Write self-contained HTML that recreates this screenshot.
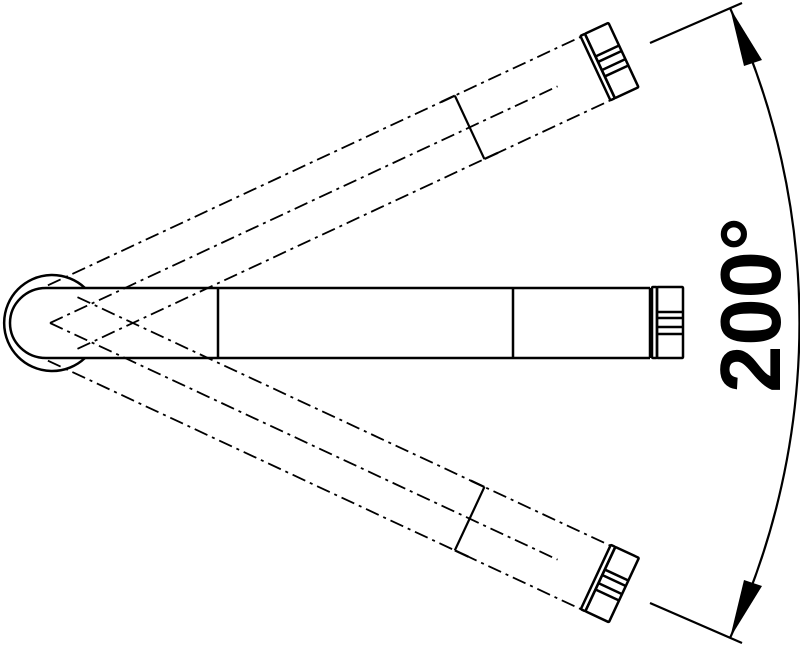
<!DOCTYPE html>
<html><head><style>html,body{margin:0;padding:0;background:#fff}svg{display:block}</style></head>
<body>
<svg width="800" height="647" viewBox="0 0 800 647" xmlns="http://www.w3.org/2000/svg">
<defs>
<g id="nozzle" fill="none" stroke="#000" stroke-width="2.5">
  <rect x="602" y="-36" width="5" height="71" rx="1"/>
  <rect x="607" y="-36" width="26" height="71" rx="1"/>
  <line x1="607" y1="-11" x2="633" y2="-11"/>
  <line x1="607" y1="-5" x2="633" y2="-5"/>
  <line x1="607" y1="4" x2="633" y2="4"/>
  <line x1="607" y1="11" x2="633" y2="11"/>
</g>
<g id="ghost" fill="none" stroke="#000" stroke-width="1.8">
  <g stroke-dasharray="14,5,3,5">
    <line x1="14" y1="-35" x2="602" y2="-35"/>
    <line x1="14" y1="35" x2="602" y2="35"/>
    <line x1="0" y1="0" x2="560" y2="0"/>
  </g>
  <g stroke-width="2.2">
    <line x1="463" y1="-35" x2="463" y2="35"/>
    <line x1="448" y1="-35" x2="463" y2="-35"/>
    <line x1="463" y1="35" x2="478" y2="35"/>
  </g>
  <use href="#nozzle"/>
</g>
</defs>

<g transform="translate(50,323) rotate(-25)"><use href="#ghost"/></g>
<g transform="translate(50,323) rotate(25)"><use href="#ghost"/></g>

<g fill="none" stroke="#000" stroke-width="2.5">
  <path d="M85,288 A48,48 0 1 0 85,358"/>
  <path d="M46,288 A36,35 0 0 0 46,358"/>
  <line x1="46" y1="288" x2="650" y2="288"/>
  <line x1="46" y1="358" x2="650" y2="358"/>
  <line x1="218" y1="288" x2="218" y2="358"/>
  <line x1="513" y1="288" x2="513" y2="358"/>
  <line x1="650" y1="288" x2="650" y2="358"/>
</g>
<g transform="translate(50,323)"><use href="#nozzle"/></g>

<g fill="none" stroke="#000" stroke-width="2.2">
  <line x1="650" y1="43" x2="742" y2="3"/>
  <line x1="650" y1="603" x2="742" y2="643"/>
  <path d="M730,8 A749,749 0 0 1 730,638"/>
</g>
<polygon points="730,8 762,60 744,66" fill="#000"/>
<polygon points="730,638 762,586 744,580" fill="#000"/>
<text x="0" y="0" transform="translate(780,305) rotate(-90)" text-anchor="middle" font-family="Liberation Sans, sans-serif" font-weight="bold" font-size="85">200°</text>
</svg>
</body></html>
